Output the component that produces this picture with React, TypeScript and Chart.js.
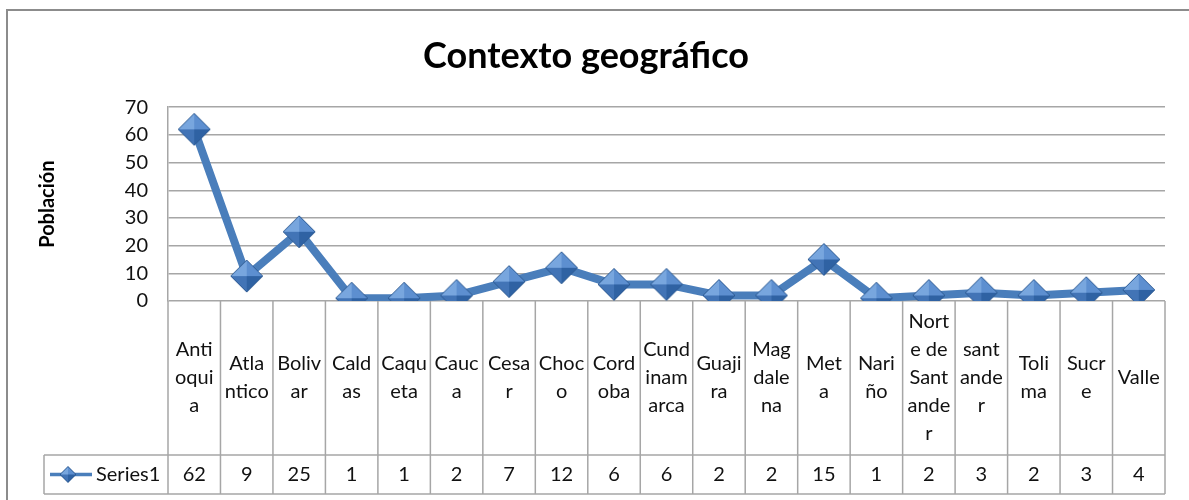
import React, { useEffect, useRef } from "react";
import { Chart, registerables } from "chart.js";

Chart.register(...registerables);

const chartTitle = "Contexto geográfico";
const yAxisTitle = "Población";
const seriesName = "Series1";
const categories: string[][] = [
  ["Anti", "oqui", "a"],
  ["Atla", "ntico"],
  ["Boliv", "ar"],
  ["Cald", "as"],
  ["Caqu", "eta"],
  ["Cauc", "a"],
  ["Cesa", "r"],
  ["Choc", "o"],
  ["Cord", "oba"],
  ["Cund", "inam", "arca"],
  ["Guaji", "ra"],
  ["Mag", "dale", "na"],
  ["Met", "a"],
  ["Nari", "ño"],
  ["Nort", "e de", "Sant", "ande", "r"],
  ["sant", "ande", "r"],
  ["Toli", "ma"],
  ["Sucr", "e"],
  ["Valle"],
];
const seriesValues: number[] = [62, 9, 25, 1, 1, 2, 7, 12, 6, 6, 2, 2, 15, 1, 2, 3, 2, 3, 4];
const yMin = 0;
const yMax = 70;
const yStep = 10;

const FONT = "Lato, 'Open Sans', sans-serif";
const LINE_COLOR = "#4a7ebb";
const GRID_COLOR = "#a6a6a6";

function makeDiamond(r: number): HTMLCanvasElement {
  const c = document.createElement("canvas");
  const s = Math.ceil(2 * r + 4);
  c.width = s;
  c.height = s;
  const g = c.getContext("2d")!;
  const cx = s / 2;
  const cy = s / 2;
  const facets: [number, number, number, number, string][] = [
    [cx - r, cy, cx, cy - r, "#78a6de"],
    [cx, cy - r, cx + r, cy, "#5d8fd0"],
    [cx + r, cy, cx, cy + r, "#2f62a3"],
    [cx, cy + r, cx - r, cy, "#4274b6"],
  ];
  for (const [x1, y1, x2, y2, col] of facets) {
    g.beginPath();
    g.moveTo(cx, cy);
    g.lineTo(x1, y1);
    g.lineTo(x2, y2);
    g.closePath();
    g.fillStyle = col;
    g.fill();
  }
  g.beginPath();
  g.moveTo(cx - r, cy);
  g.lineTo(cx, cy - r);
  g.lineTo(cx + r, cy);
  g.lineTo(cx, cy + r);
  g.closePath();
  g.strokeStyle = "#2d5a92";
  g.lineWidth = 1;
  g.stroke();
  return c;
}

export default function App() {
  const ref = useRef<HTMLCanvasElement | null>(null);

  useEffect(() => {
    if (!ref.current) return;
    const bigDiamond = makeDiamond(16);
    const smallDiamond = makeDiamond(8);

    const frame = {
      id: "frame",
      beforeDraw(chart: any) {
        const { ctx, width, height } = chart;
        ctx.save();
        ctx.fillStyle = "#ffffff";
        ctx.fillRect(0, 0, width, height);
        ctx.strokeStyle = "#8c8c8c";
        ctx.lineWidth = 2;
        ctx.strokeRect(7, 10, width + 100, height + 100);
        ctx.restore();
      },
    };

    const dataTable = {
      id: "dataTable",
      beforeDatasetsDraw(chart: any) {
        const { ctx, chartArea } = chart;
        const xs = chart.scales.x;
        const labels = chart.data.labels as string[][];
        const values = chart.data.datasets[0].data as number[];
        const n = labels.length;
        const w = xs.getPixelForValue(1) - xs.getPixelForValue(0);
        const top = chartArea.bottom;
        const split = 455;
        const bottom = 494;
        const legendLeft = 44;
        ctx.save();
        ctx.strokeStyle = GRID_COLOR;
        ctx.lineWidth = 1.5;
        ctx.beginPath();
        for (let i = 0; i <= n; i++) {
          const x = xs.getPixelForValue(0) - w / 2 + i * w;
          ctx.moveTo(x, top);
          ctx.lineTo(x, bottom);
        }
        ctx.moveTo(legendLeft, split);
        ctx.lineTo(chartArea.right, split);
        ctx.moveTo(legendLeft, bottom);
        ctx.lineTo(chartArea.right, bottom);
        ctx.moveTo(legendLeft, split);
        ctx.lineTo(legendLeft, bottom);
        ctx.stroke();

        ctx.fillStyle = "#111111";
        ctx.font = `20px ${FONT}`;
        ctx.textAlign = "center";
        ctx.textBaseline = "middle";
        const lh = 28;
        const mid = 378;
        for (let i = 0; i < n; i++) {
          const x = xs.getPixelForValue(i);
          const lines = labels[i];
          const y0 = mid - ((lines.length - 1) * lh) / 2;
          lines.forEach((t, k) => ctx.fillText(t, x, y0 + k * lh));
          ctx.fillText(String(values[i]), x, (split + bottom) / 2);
        }
        // legend key
        const ly = (split + bottom) / 2;
        ctx.strokeStyle = LINE_COLOR;
        ctx.lineWidth = 3.5;
        ctx.beginPath();
        ctx.moveTo(50, ly);
        ctx.lineTo(92, ly);
        ctx.stroke();
        ctx.drawImage(smallDiamond, 68 - smallDiamond.width / 2, ly - smallDiamond.height / 2);
        ctx.textAlign = "left";
        ctx.fillText(chart.data.datasets[0].label, 96, ly);
        ctx.restore();
      },
    };

    const chart = new Chart(ref.current, {
      type: "line",
      data: {
        labels: categories as any,
        datasets: [
          {
            label: seriesName,
            data: seriesValues,
            borderColor: LINE_COLOR,
            backgroundColor: LINE_COLOR,
            borderWidth: 8,
            tension: 0,
            pointStyle: bigDiamond as any,
            pointRadius: 16,
          },
        ],
      },
      options: {
        responsive: false,
        animation: false,
        layout: { padding: { left: 0, right: 17, top: 10, bottom: 199 } },
        plugins: {
          legend: { display: false },
          tooltip: { enabled: false },
          title: {
            display: true,
            text: chartTitle,
            color: "#000000",
            font: { family: FONT, size: 36, weight: "bold" },
            padding: { top: 25, bottom: 29 },
          },
        },
        scales: {
          x: {
            type: "category",
            offset: true,
            display: false,
            grid: { display: false },
          },
          y: {
            min: yMin,
            max: yMax,
            ticks: {
              stepSize: yStep,
              color: "#111111",
              padding: 20,
              font: { family: FONT, size: 20 },
            },
            grid: { color: GRID_COLOR, lineWidth: 1.5, drawTicks: false },
            border: { display: true, color: GRID_COLOR, width: 1.5 },
            title: {
              display: true,
              text: yAxisTitle,
              color: "#000000",
              font: { family: FONT, size: 20, weight: "bold" },
              padding: { top: 36, bottom: 0 },
            },
            afterFit(scale: any) {
              scale.width = 168;
            },
          },
        },
      },
      plugins: [frame, dataTable],
    });
    return () => chart.destroy();
  }, []);

  return (
    <div style={{ position: "fixed", left: 0, top: 0, width: 1189, height: 500 }}>
      <canvas ref={ref} width={1189} height={500} style={{ display: "block" }} />
    </div>
  );
}
